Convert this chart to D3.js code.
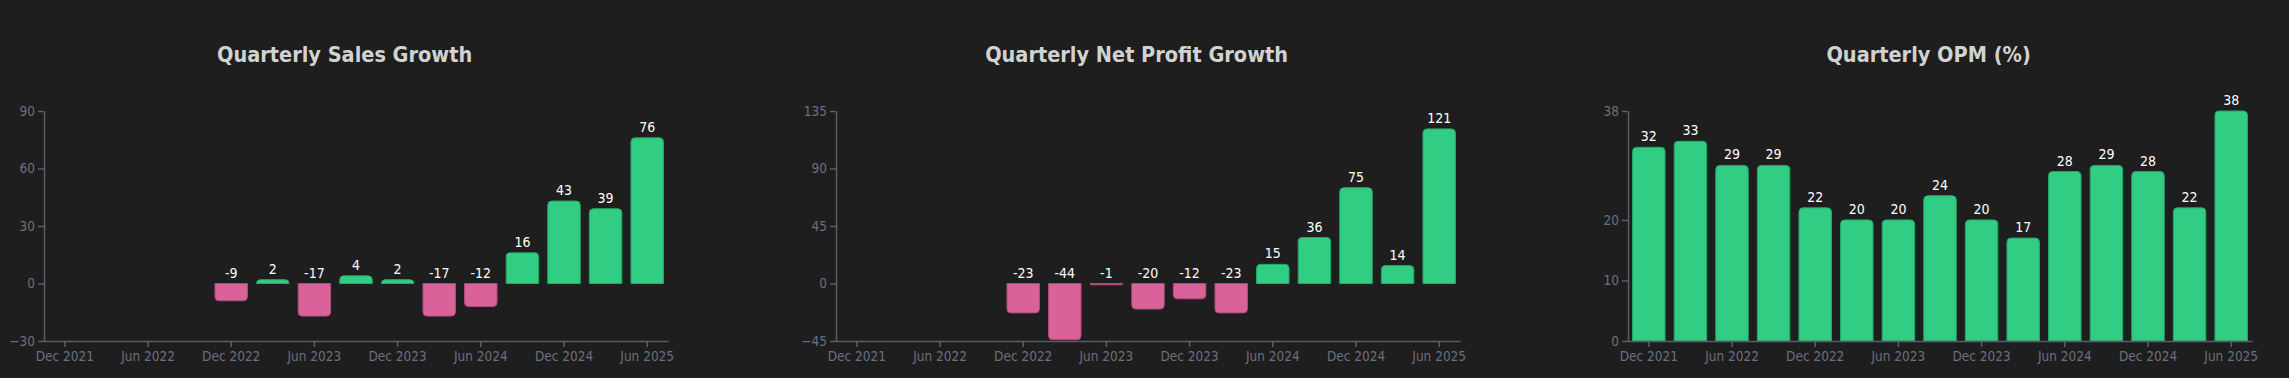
<!DOCTYPE html>
<html>
<head>
<meta charset="utf-8">
<script src="https://cdn.jsdelivr.net/npm/d3@7"></script>
<style>
  html, body { margin: 0; padding: 0; background: #1e1e1e; }
  svg { display: block; }
</style>
</head>
<body>
<svg id="chart" width="2289" height="378"></svg>
<script>
const quarters = ["Dec 2021","Mar 2022","Jun 2022","Sep 2022","Dec 2022","Mar 2023","Jun 2023","Sep 2023",
                  "Dec 2023","Mar 2024","Jun 2024","Sep 2024","Dec 2024","Mar 2025","Jun 2025"];
const xTickLabels = ["Dec 2021","Jun 2022","Dec 2022","Jun 2023","Dec 2023","Jun 2024","Dec 2024","Jun 2025"];

const salesGrowth  = [null, null, null, null, -9, 2, -17, 4, 2, -17, -12, 16, 43, 39, 76];
const profitGrowth = [null, null, null, null, -23, -44, -1, -20, -12, -23, 15, 36, 75, 14, 121];
const opm          = [32, 33, 29, 29, 22, 20, 20, 24, 20, 17, 28, 29, 28, 22, 38];

const salesTicks  = [-30, 0, 30, 60, 90];
const profitTicks = [-45, 0, 45, 90, 135];
const opmTicks    = [0, 10, 20, 38];

const titles = ["Quarterly Sales Growth", "Quarterly Net Profit Growth", "Quarterly OPM (%)"];

const panels = [
  { title: titles[0], values: salesGrowth,  ticks: salesTicks,  domain: [-30, 90] },
  { title: titles[1], values: profitGrowth, ticks: profitTicks, domain: [-45, 135] },
  { title: titles[2], values: opm,          ticks: opmTicks,    domain: [0, 38] }
];

const FONT = "'DejaVu Sans Condensed', 'DejaVu Sans', sans-serif";
const GREEN = "#31cd82", GREEN_S = "#27a86a";
const PINK = "#da629b", PINK_S = "#b04c7c";
const AXIS = "#5a5e68", TICK_TXT = "#6b7080";

const svg = d3.select("#chart");
svg.append("rect").attr("width", 2289).attr("height", 378).attr("fill", "#1e1e1e");

const panelW = 792, plotL = 44, plotW = 624, plotTop = 111, plotBottom = 341;

function barPath(x0, w, yZero, yVal, r) {
  const h = Math.abs(yVal - yZero);
  const rr = Math.min(r, h, w / 2);
  if (yVal <= yZero) {
    return `M${x0},${yZero}V${yVal + rr}Q${x0},${yVal} ${x0 + rr},${yVal}H${x0 + w - rr}Q${x0 + w},${yVal} ${x0 + w},${yVal + rr}V${yZero}Z`;
  } else {
    return `M${x0},${yZero}V${yVal - rr}Q${x0},${yVal} ${x0 + rr},${yVal}H${x0 + w - rr}Q${x0 + w},${yVal} ${x0 + w},${yVal - rr}V${yZero}Z`;
  }
}

panels.forEach((p, i) => {
  const g = svg.append("g").attr("transform", `translate(${i * panelW},0)`);

  g.append("text")
    .attr("x", 344.6).attr("y", 62)
    .attr("text-anchor", "middle")
    .attr("font-family", FONT).attr("font-weight", "bold").attr("font-size", 21.5)
    .attr("fill", "#d2d2d2")
    .text(p.title);

  const plot = g.append("g").attr("transform", `translate(${plotL},0)`);

  const x = d3.scaleBand().domain(quarters).range([0, plotW]).paddingInner(0.22).paddingOuter(0.11);
  const y = d3.scaleLinear().domain(p.domain).range([plotBottom, plotTop]);

  const data = quarters.map((q, k) => ({ q, v: p.values[k] })).filter(d => d.v !== null);

  plot.selectAll("path.bar").data(data).join("path")
    .attr("class", "bar")
    .attr("d", d => barPath(x(d.q), x.bandwidth(), y(0), y(d.v), 4))
    .attr("fill", d => d.v < 0 ? PINK : GREEN)
    .attr("stroke", d => d.v < 0 ? PINK_S : GREEN_S)
    .attr("stroke-width", 1);

  plot.selectAll("text.val").data(data).join("text")
    .attr("class", "val")
    .attr("x", d => x(d.q) + x.bandwidth() / 2)
    .attr("y", d => (d.v < 0 ? y(0) : y(d.v)) - 6)
    .attr("text-anchor", "middle")
    .attr("font-family", FONT).attr("font-size", 14)
    .attr("fill", "#ffffff")
    .text(d => d.v);

  const yAxis = plot.append("g").call(d3.axisLeft(y).tickValues(p.ticks).tickSizeOuter(0));
  const xAxis = plot.append("g").attr("transform", `translate(0,${plotBottom})`)
    .call(d3.axisBottom(x).tickValues(xTickLabels).tickSizeOuter(0));

  [yAxis, xAxis].forEach(a => {
    a.selectAll("path, line").attr("stroke", AXIS).attr("stroke-width", 1.5);
    a.selectAll("text").attr("fill", TICK_TXT).attr("font-family", FONT).attr("font-size", 13.5);
  });
  xAxis.selectAll("text").attr("dy", "0.85em");
});
</script>
</body>
</html>
